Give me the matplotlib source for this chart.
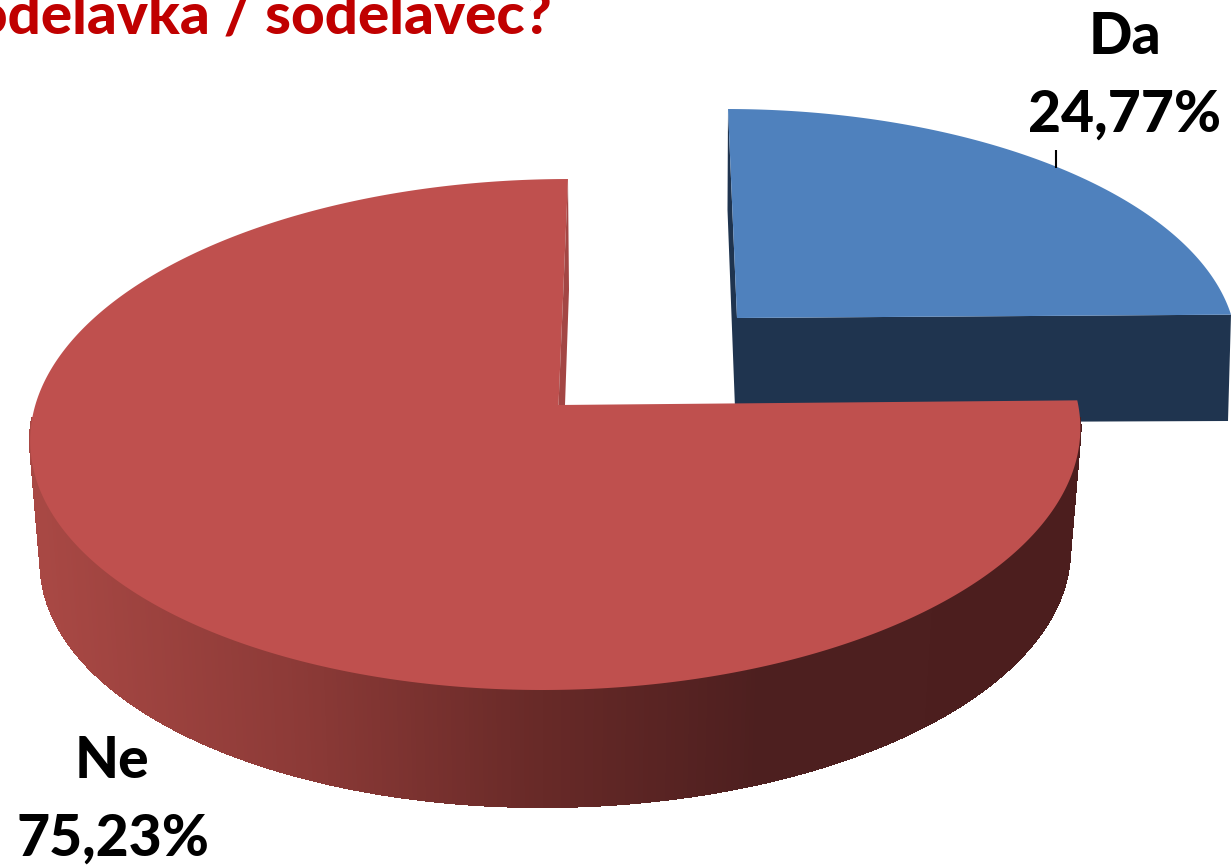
import numpy as np
import matplotlib
matplotlib.use("Agg")
import matplotlib.pyplot as plt
from matplotlib.collections import PolyCollection

# data
kategorije = ["Da", "Ne"]
vrednosti = [24.77, 75.23]
oznake = ["24,77%", "75,23%"]
naslov = "sodelavka / sodelavec?"

plt.rcParams['font.family'] = ['Lato', 'DejaVu Sans']

fig = plt.figure(figsize=(12.32, 8.66), dpi=100)
ax = fig.add_axes([0, 0, 1, 1])
ax.set_xlim(0, 1232)
ax.set_ylim(866, 0)
ax.axis("off")


# perspective of the pie disc: u = right, v = up, both on the unit circle
def disc(kot, sredina, a, b, d, e):
    u = np.sin(kot)
    v = np.cos(kot)
    w = 0.0038 * u + 0.1155 * v + 1
    return (a * u + b * v + sredina[0]) / w, (d * u + e * v + sredina[1]) / w


def spodaj(x, y):
    # lower rim of the red slice
    return 556.5 + (x - 556.5) * 0.98, 434.5 + (y - 434.5) * 0.98 + 122


def barva_strani(x):
    xp = [40, 300, 530, 760, 1100]
    r = np.interp(x, xp, [168, 140, 105, 77, 76])
    g = np.interp(x, xp, [72, 58, 42, 31, 30])
    b = np.interp(x, xp, [68, 55, 40, 31, 30])
    return (r / 255, g / 255, b / 255)


meje = np.cumsum([0] + vrednosti) / sum(vrednosti) * 2 * np.pi

# blue slice (Da)
sred_da = (737, 318)
t = np.linspace(meje[0], meje[1], 150)
x, y = disc(t, sred_da, 499.7, 75.1, 1.2, -196.4)
ax.fill([728, 727.5, 735, 740, 737], [109, 210, 408, 408, 318], color="#1F344F", lw=0)
ax.fill([737, x[-1], 1228, 735], [318, y[-1], 421, 423], color="#1F344F", lw=0)
ax.fill(np.r_[737, x], np.r_[318, y], color="#4F81BD", lw=0)

# red slice (Ne)
sred_ne = (558.5, 405)
t = np.linspace(meje[1], meje[2], 600)
x, y = disc(t, sred_ne, 523.6, 75.1, 0.5, -205.3)
xs, ys = spodaj(x, y)

poli = []
barve = []
for i in range(len(t) - 1):
    # back of the rim is hidden by the top face anyway
    if np.cos(t[i]) > -0.05:
        continue
    poli.append([(x[i], y[i]), (x[i + 1], y[i + 1]), (xs[i + 1], ys[i + 1]), (xs[i], ys[i])])
    barve.append(barva_strani((x[i] + x[i + 1]) / 2))
ax.add_collection(PolyCollection(poli, facecolors=barve, edgecolors=barve, linewidths=1.0, antialiaseds=False))

ax.fill(np.r_[558.5, x], np.r_[405, y], color="#BF504E", lw=0)
ax.fill([568, 558.5, 565, 569], [180, 405, 405, 290], color="#A34644", lw=0)

# leader line and labels
ax.plot([1056, 1056], [150, 168], color="black", lw=1.5, solid_capstyle="butt")

ax.text(1125, 54, kategorije[0], fontsize=41, fontweight="black", ha="center", va="baseline", color="black")
ax.text(1125, 132, oznake[0], fontsize=41, fontweight="black", ha="center", va="baseline", color="black")
ax.text(112, 778, kategorije[1], fontsize=41, fontweight="black", ha="center", va="baseline", color="black")
ax.text(113, 856, oznake[1], fontsize=41, fontweight="black", ha="center", va="baseline", color="black")
ax.text(552, 33, naslov, fontsize=42, fontweight="black", ha="right", va="baseline", color="#C00000")

fig.savefig("out.png", dpi=100)
